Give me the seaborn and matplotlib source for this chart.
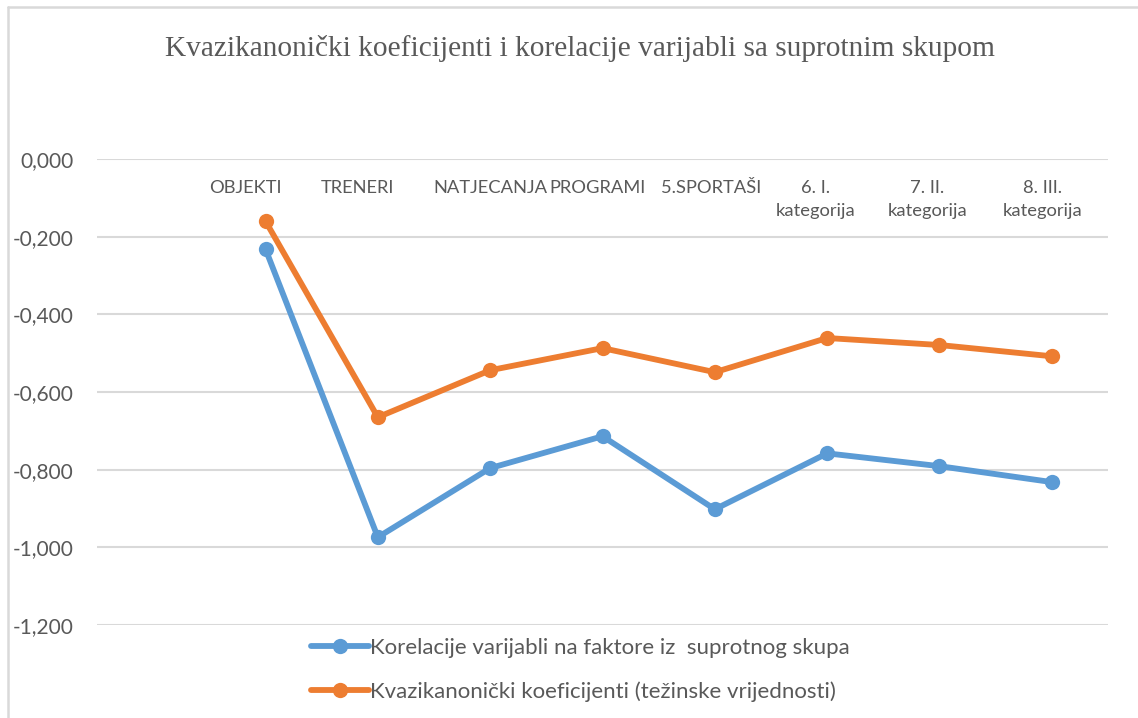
import numpy as np
import pandas as pd
import matplotlib
matplotlib.use("Agg")
import matplotlib.pyplot as plt
from matplotlib.lines import Line2D
from matplotlib.transforms import ScaledTranslation
import seaborn as sns

categories = ["", "OBJEKTI", "TRENERI", "NATJECANJA", "PROGRAMI", "5.SPORTAŠI",
              "6. I.\nkategorija", "7. II.\nkategorija", "8. III.\nkategorija"]
korelacije = [np.nan, -0.232, -0.974, -0.796, -0.714, -0.902, -0.758, -0.791, -0.832]
kvazikanonicki = [np.nan, -0.160, -0.665, -0.544, -0.487, -0.549, -0.461, -0.479, -0.508]
series_names = ["Korelacije varijabli na faktore iz  suprotnog skupa",
                "Kvazikanonički koeficijenti (težinske vrijednosti)"]
yticks = [0.0, -0.2, -0.4, -0.6, -0.8, -1.0, -1.2]
title = "Kvazikanonički koeficijenti i korelacije varijabli sa suprotnim skupom"

# horizontal nudges (pixels) of the category labels, as the source renders them
label_nudge_px = [0, -20, -20, 0, -5, -4, -12, -12, -9]

colors = ["#5B9BD5", "#ED7D31"]
text_color = "#595959"
grid_color = "#D9D9D9"

sns.set_theme(style="white")
plt.rcParams["font.family"] = ["Lato", "DejaVu Sans"]

rows = []
for name, vals in zip(series_names, [korelacije, kvazikanonicki]):
    for i, v in enumerate(vals):
        rows.append({"idx": i, "value": v, "series": name})
df = pd.DataFrame(rows).dropna()

fig = plt.figure(figsize=(11.38, 7.18), dpi=100)
ax = fig.add_axes([97 / 1138, 1 - 625 / 718, (1108 - 97) / 1138, (625 - 159) / 718])

sns.lineplot(data=df, x="idx", y="value", hue="series", hue_order=series_names,
             palette=colors, marker="o", markersize=11, markeredgewidth=0,
             linewidth=4.2, ax=ax, legend=False, sort=False)

ax.set_xlim(-0.5, len(categories) - 0.5)
ax.set_ylim(-1.2, 0.0)
ax.set_yticks(yticks)
ax.set_yticklabels([f"{v:.3f}".replace(".", ",") for v in yticks])
ax.grid(axis="y", color=grid_color, linewidth=1.5)
ax.grid(axis="x", visible=False)
for s in ax.spines.values():
    s.set_visible(False)
ax.set_xlabel("")
ax.set_ylabel("")
ax.tick_params(axis="y", length=0, pad=17, labelsize=15, labelcolor=text_color)

ax.set_xticks(range(len(categories)))
ax.set_xticklabels(categories)
ax.xaxis.set_ticks_position("top")
ax.tick_params(axis="x", length=0, labeltop=True, labelbottom=False,
               pad=-15, labelsize=13.2, labelcolor=text_color)
for lab, dx in zip(ax.get_xticklabels(), label_nudge_px):
    lab.set_verticalalignment("top")
    lab.set_horizontalalignment("center")
    lab.set_multialignment("center")
    lab.set_linespacing(1.55)
    lab.set_transform(lab.get_transform() +
                      ScaledTranslation(dx / 100, 0, fig.dpi_scale_trans))

handles = [Line2D([], [], color=c, linewidth=4.2, marker="o", markersize=11,
                  markeredgewidth=0) for c in colors]
fig.legend(handles, series_names, loc="upper left",
           bbox_to_anchor=(291 / 1138, 1 - 618 / 718), frameon=False,
           fontsize=16, labelcolor=text_color, handlelength=2.6,
           handletextpad=0.05, labelspacing=1.05, numpoints=1)

fig.text(580 / 1138, 1 - 48 / 718, title, ha="center", va="center",
         fontsize=21.2, color=text_color, family=["Liberation Serif", "DejaVu Serif"])

fig.add_artist(Line2D([8 / 1138, 1.0], [1 - 7 / 718, 1 - 7 / 718],
                      transform=fig.transFigure, color=grid_color, linewidth=1.8))
fig.add_artist(Line2D([8 / 1138, 8 / 1138], [1 - 7 / 718, 0.0],
                      transform=fig.transFigure, color=grid_color, linewidth=1.8))

fig.savefig("out.png", dpi=100)
